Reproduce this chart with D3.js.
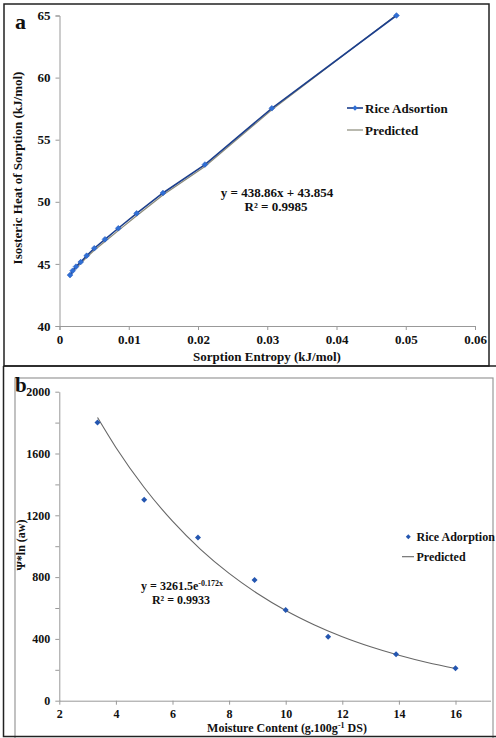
<!DOCTYPE html>
<html><head><meta charset="utf-8">
<script src="https://cdn.jsdelivr.net/npm/d3@7"></script>
<style>
html,body{margin:0;padding:0;background:#fff;}
svg text{font-family:"Liberation Serif","Times New Roman",serif;font-weight:bold;fill:#111;}
</style></head>
<body><svg id="c" width="496" height="738"></svg>
<script>
// ---- Panel a data ----
const entropyA = [0.00152,0.0019,0.00238,0.00306,0.00392,0.00502,0.00657,0.00849,0.01114,0.01494,0.0210,0.03066,0.04866];
const heatA    = [44.10,44.45,44.78,45.15,45.66,46.26,46.98,47.87,49.07,50.71,53.00,57.53,65.00];
const predXA   = [0.00152,0.0019,0.00238,0.00306,0.00392,0.00502,0.00657,0.00849,0.01114,0.01494,0.0210,0.03066,0.04866];
const predYA   = [44.00,44.32,44.66,45.02,45.52,46.10,46.80,47.68,48.88,50.55,52.85,57.40,65.05];
const xTicksA  = [0,0.01,0.02,0.03,0.04,0.05,0.06];
const yTicksA  = [40,45,50,55,60,65];
// ---- Panel b data ----
const moistureB = [3.35,5.0,6.9,8.9,10.0,11.5,13.9,16.0];
const psiB      = [1800,1300,1057,781,587,414,300,210];
const predXB    = [3.35,4,5,6,7,8,9,10,11,12,13,14,15,16];
const predYB    = [1833,1639,1380,1162,978,824,694,584,492,414,349,294,247,208];
const xTicksB   = [2,4,6,8,10,12,14,16];
const yTicksB   = [0,200,400,600,800,1000,1200,1400,1600,1800,2000];

const svg = d3.select("#c");
const diamond = d3.symbol().type(d3.symbolSquare);

// ---------- frames ----------
svg.append("rect").attr("x",4).attr("y",4).attr("width",485).attr("height",362)
  .attr("fill","none").attr("stroke","#222").attr("stroke-width",1.5);
svg.append("rect").attr("x",15).attr("y",378).attr("width",478).attr("height",370)
  .attr("fill","none").attr("stroke","#999").attr("stroke-width",1.2);
svg.append("path").attr("d","M3.5,366 H496 M3.5,366 V736.5 H496")
  .attr("fill","none").attr("stroke","#222").attr("stroke-width",1.5);

// ---------- Panel a ----------
const xa = d3.scaleLinear().domain([0,0.06]).range([59.5,475]);
const ya = d3.scaleLinear().domain([40,65]).range([326,15.5]);
const ga = svg.append("g");

const axA = ga.append("g").attr("transform","translate(0,326)")
  .call(d3.axisBottom(xa).tickValues(xTicksA).tickSize(4).tickPadding(5)
    .tickFormat(d=> d===0 ? "0" : d3.format(".2f")(d)));
const ayA = ga.append("g").attr("transform","translate(59.5,0)")
  .call(d3.axisLeft(ya).tickValues(yTicksA).tickSize(4).tickPadding(5));
[axA,ayA].forEach(a=>{
  a.selectAll("path,line").attr("stroke","#999");
  a.selectAll("text").attr("font-size",13).attr("fill","#111")
   .attr("font-family","Liberation Serif").attr("font-weight","bold");
});

// predicted
ga.append("path").datum(predXA.map((x,i)=>[x,predYA[i]]))
  .attr("d",d3.line().x(d=>xa(d[0])).y(d=>ya(d[1])))
  .attr("fill","none").attr("stroke","#8a8a7a").attr("stroke-width",1.2);
// data line
ga.append("path").datum(entropyA.map((x,i)=>[x,heatA[i]]))
  .attr("d",d3.line().x(d=>xa(d[0])).y(d=>ya(d[1])))
  .attr("fill","none").attr("stroke","#1c3f8c").attr("stroke-width",1.6);
ga.selectAll(".pa").data(entropyA.map((x,i)=>[x,heatA[i]])).join("path")
  .attr("d",diamond.size(16)())
  .attr("transform",d=>`translate(${xa(d[0])},${ya(d[1])}) rotate(45)`)
  .attr("fill","#2f6fd6").attr("stroke","#2a5fc0").attr("stroke-width",0.6);

ga.append("text").attr("x",15).attr("y",29).attr("font-size",22).text("a");
ga.append("text").attr("x",267).attr("y",361).attr("text-anchor","middle").attr("font-size",13)
  .text("Sorption Entropy (kJ/mol)");
ga.append("text").attr("transform","translate(22,168) rotate(-90)").attr("text-anchor","middle")
  .attr("font-size",13).text("Isosteric Heat of Sorption (kJ/mol)");
ga.append("text").attr("x",277).attr("y",197).attr("text-anchor","middle").attr("font-size",13)
  .text("y = 438.86x + 43.854");
ga.append("text").attr("x",276).attr("y",211).attr("text-anchor","middle").attr("font-size",13)
  .text("R² = 0.9985");
// legend a
ga.append("line").attr("x1",347).attr("x2",363).attr("y1",108).attr("y2",108)
  .attr("stroke","#1c3f8c").attr("stroke-width",1.6);
ga.append("path").attr("d",diamond.size(14)()).attr("transform","translate(355,108) rotate(45)")
  .attr("fill","#2f6fd6");
ga.append("text").attr("x",365).attr("y",112.5).attr("font-size",13).text("Rice Adsortion");
ga.append("line").attr("x1",347).attr("x2",363).attr("y1",130).attr("y2",130)
  .attr("stroke","#8a8a7a").attr("stroke-width",1.2);
ga.append("text").attr("x",365).attr("y",134.5).attr("font-size",13).text("Predicted");

// ---------- Panel b ----------
const xb = d3.scaleLinear().domain([2,18]).range([59.3,512.1]);
const yb = d3.scaleLinear().domain([0,2000]).range([700.7,391.7]);
svg.append("clipPath").attr("id","clipb").append("rect")
  .attr("x",0).attr("y",378).attr("width",491).attr("height",360);
const gb = svg.append("g").attr("clip-path","url(#clipb)");

const axB = gb.append("g").attr("transform","translate(0,700.7)")
  .call(d3.axisBottom(xb).tickValues(xTicksB).tickSize(4).tickPadding(5).tickSizeOuter(0));
const ayB = gb.append("g").attr("transform","translate(59.3,0)")
  .call(d3.axisLeft(yb).tickValues(yTicksB).tickSize(4).tickPadding(5).tickSizeOuter(0)
    .tickFormat(d=> d%400===0 ? d : ""));
[axB,ayB].forEach(a=>{
  a.selectAll("path,line").attr("stroke","#999");
  a.selectAll("text").attr("font-size",12).attr("fill","#111")
   .attr("font-family","Liberation Serif").attr("font-weight","bold");
});

gb.append("path").datum(predXB.map((x,i)=>[x,predYB[i]]))
  .attr("d",d3.line().curve(d3.curveMonotoneX).x(d=>xb(d[0])).y(d=>yb(d[1])))
  .attr("fill","none").attr("stroke","#666").attr("stroke-width",1.1);
gb.selectAll(".pb").data(moistureB.map((x,i)=>[x,psiB[i]])).join("path")
  .attr("d",diamond.size(18)())
  .attr("transform",d=>`translate(${xb(d[0])},${yb(d[1])}) rotate(45)`)
  .attr("fill","#2456b0");

svg.append("text").attr("x",15).attr("y",392).attr("font-size",21).text("b");
const xt = svg.append("text").attr("x",287).attr("y",732).attr("text-anchor","middle").attr("font-size",12);
xt.append("tspan").text("Moisture Content (g.100g");
xt.append("tspan").attr("font-size",8).attr("dy",-4).text("-1");
xt.append("tspan").attr("dy",4).text(" DS)");
svg.append("text").attr("transform","translate(25,545) rotate(-90)").attr("text-anchor","middle")
  .attr("font-size",12).text("Ψ*ln (aw)");
const eq = svg.append("text").attr("x",182).attr("y",590).attr("text-anchor","middle").attr("font-size",12);
eq.append("tspan").text("y = 3261.5e");
eq.append("tspan").attr("font-size",8).attr("dy",-4).text("-0.172x");
svg.append("text").attr("x",181).attr("y",604).attr("text-anchor","middle").attr("font-size",12)
  .text("R² = 0.9933");
// legend b
svg.append("path").attr("d",diamond.size(12)()).attr("transform","translate(408.3,536.7) rotate(45)")
  .attr("fill","#2456b0");
svg.append("text").attr("x",416.5).attr("y",541).attr("font-size",12).text("Rice Adorption");
svg.append("line").attr("x1",402).attr("x2",414).attr("y1",556.7).attr("y2",556.7)
  .attr("stroke","#666").attr("stroke-width",1.1);
svg.append("text").attr("x",416.5).attr("y",561).attr("font-size",12).text("Predicted");
</script></body></html>
